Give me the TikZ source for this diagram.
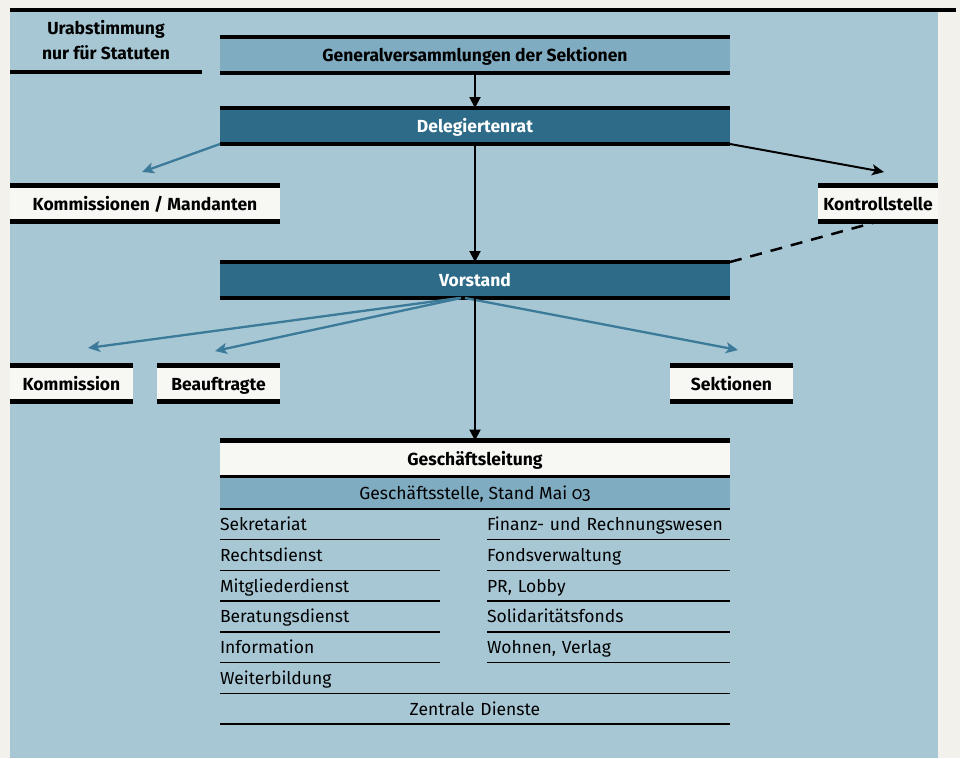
\documentclass[tikz,border=0pt]{standalone}
\usepackage{fontspec}
\setmainfont{Fira Sans}
\usetikzlibrary{arrows.meta,positioning}

\definecolor{paper}{HTML}{F2F1EC}
\definecolor{bgblue}{HTML}{A8C7D5}
\definecolor{midblue}{HTML}{80ACC1}
\definecolor{darkteal}{HTML}{2D6B88}
\definecolor{boxwhite}{HTML}{F7F7F4}
\definecolor{arrblue}{HTML}{3B7A98}

\begin{document}
\begin{tikzpicture}[
  x=1pt, y=-1pt,
  node distance=0pt,
  bar/.style={draw=black, line width=4.5pt},
  thinbar/.style={draw=black, line width=1.4pt},
  barbox/.style={rectangle, inner sep=0pt, outer sep=0pt, minimum height=36pt,
    text height=15pt, text depth=2pt,
    font=\bfseries\fontsize{17.5}{20}\selectfont,
    append after command={(\tikzlastnode.north west) edge[bar] (\tikzlastnode.north east)
      (\tikzlastnode.south west) edge[bar] (\tikzlastnode.south east)}},
  wide/.style={barbox, minimum width=510pt},
  small/.style={barbox, minimum width=123pt, fill=boxwhite},
  item/.style={rectangle, inner sep=0pt, outer sep=0pt, minimum height=30.7pt,
    text height=15pt, text depth=2pt,
    font=\fontsize{17.5}{20}\selectfont, align=left,
    append after command={(\tikzlastnode.south west) edge[thinbar] (\tikzlastnode.south east)}},
  arr/.style={-{Stealth[length=12pt, width=11pt, inset=3pt]}, line width=2pt},
  blue arr/.style={arr, draw=arrblue, fill=arrblue, line width=2.3pt},
  down arr/.style={-{Triangle[length=11pt, width=11pt]}, line width=2pt},
  dashline/.style={dashed, dash pattern=on 12pt off 9pt, line width=2.5pt}
]
\useasboundingbox (0,0) rectangle (960,758);
\fill[paper] (0,0) rectangle (960,758);
\fill[bgblue] (10,10) rectangle (938,758);
\draw[bar] (10,10) -- (956,10);

% Top
\node[rectangle, inner sep=0pt, minimum width=192pt, minimum height=64pt, align=center,
  font=\bfseries\fontsize{17.5}{25}\selectfont,
  append after command={(\tikzlastnode.south west) edge[bar] (\tikzlastnode.south east)}]
  (urab) at (106,40) {Urabstimmung\\nur für Statuten};
\node[wide, fill=midblue] (gv) at (475,55) {Generalversammlungen der Sektionen};
\node[wide, fill=darkteal, text=white] (dr) at (475,126) {Delegiertenrat};

% Second row
\node[barbox, fill=boxwhite, minimum width=270pt] (komman) at (145,203.5) {Kommissionen / Mandanten};
\node[barbox, fill=boxwhite, minimum width=120pt] (kontr) at (878,203.5) {Kontrollstelle};
\coordinate (kommantip) at (142,172);
\coordinate (kontrtip) at (884,172);

\node[wide, fill=darkteal, text=white] (vs) at (475,280) {Vorstand};

% Third row
\node[small] (komm) at (71.5,383.5) {Kommission};
\node[small] (beauf) at (218.5,383.5) {Beauftragte};
\node[small] (sekt) at (731.5,383.5) {Sektionen};
\coordinate (kommtip) at (88,348);
\coordinate (beauftip) at (215,351);
\coordinate (sekttip) at (738,350);

\draw[down arr] (gv) -- (dr);
\draw[blue arr] (dr.south west) -- (kommantip);
\draw[arr] (dr.south east) -- (kontrtip);
\draw[down arr] (dr) -- (vs);
\draw[dashline] (vs.north east) -- (kontr.south);

% Geschaeftsstelle
\node[wide, fill=boxwhite, minimum height=37pt] (gl) at (475,459) {Geschäftsleitung};
\node[rectangle, inner sep=0pt, outer sep=0pt, minimum width=510pt, minimum height=31.5pt,
  fill=midblue, font=\fontsize{17.5}{20}\selectfont, text height=15pt, text depth=2pt,
  append after command={(\tikzlastnode.south west) edge[thinbar] (\tikzlastnode.south east)},
  below=0pt of gl] (gs) {Geschäftsstelle, Stand Mai {\addfontfeatures{Numbers=OldStyle}03}};

\draw[blue arr] ([xshift=-16]vs.south) -- (kommtip);
\draw[blue arr] ([xshift=-14]vs.south) -- (beauftip);
\draw[blue arr] ([xshift=-10]vs.south) -- (sekttip);
\draw[down arr] (vs) -- (gl);

% left column
\node[item, text width=220pt, below right=0pt and 0pt of gs.south west] (sekr) {Sekretariat};
\node[item, text width=220pt, below=0pt of sekr] (recht) {Rechtsdienst};
\node[item, text width=220pt, below=0pt of recht] (mitgl) {Mitgliederdienst};
\node[item, text width=220pt, below=0pt of mitgl] (berat) {Beratungsdienst};
\node[item, text width=220pt, below=0pt of berat] (info) {Information};

% right column
\node[item, text width=243pt, below left=0pt and 0pt of gs.south east] (finanz) {Finanz- und Rechnungswesen};
\node[item, text width=243pt, below=0pt of finanz] (fonds) {Fondsverwaltung};
\node[item, text width=243pt, below=0pt of fonds] (pr) {PR, Lobby};
\node[item, text width=243pt, below=0pt of pr] (soli) {Solidaritätsfonds};
\node[item, text width=243pt, below=0pt of soli] (wohnen) {Wohnen, Verlag};

\node[item, text width=510pt, below right=0pt and 0pt of info.south west] (weiter) {Weiterbildung};
\node[item, text width=510pt, align=center, below=0pt of weiter] (zentral) {Zentrale Dienste};

\end{tikzpicture}
\end{document}
